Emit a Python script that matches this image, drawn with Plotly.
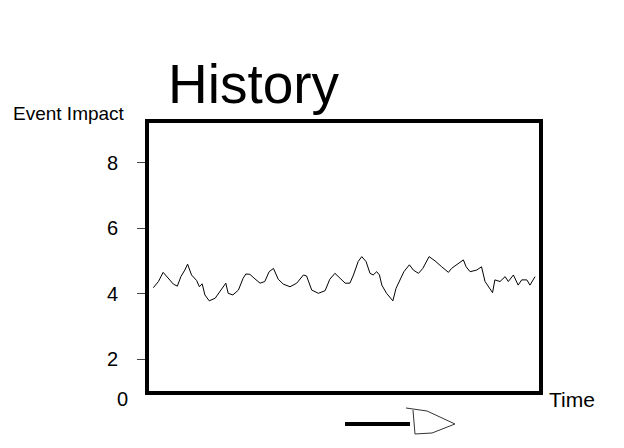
import plotly.graph_objects as go

# Data
time = [1.6, 2.9, 4.1, 5.4, 6.7, 7.7, 8.6, 9.6, 10.3, 11.3, 12.6, 13.3, 14.0, 14.7, 15.8, 17.3,
        19.0, 20.0, 20.6, 21.8, 23.2, 24.4, 25.1, 26.1, 27.4, 28.7, 29.9, 31.0, 32.1, 33.3,
        34.6, 36.3, 38.0, 39.7, 40.5, 41.8, 43.5, 45.2, 46.4, 47.7, 49.0, 50.3, 51.5, 52.4,
        53.6, 54.5, 55.6, 56.6, 57.4, 58.3, 59.0, 59.6, 60.8, 62.4, 63.2, 64.2, 65.2, 66.6,
        67.6, 68.9, 70.0, 71.6, 73.1, 74.8, 76.5, 77.3, 78.6, 80.3, 81.0, 82.0, 83.7, 84.9,
        85.8, 87.7, 88.3, 89.6, 90.9, 91.7, 93.0, 94.2, 95.1, 96.4, 97.2, 98.5]
impact = [4.19, 4.38, 4.66, 4.48, 4.30, 4.24, 4.53, 4.73, 4.91, 4.58, 4.41, 4.22, 4.31, 3.97,
          3.79, 3.87, 4.14, 4.33, 4.02, 3.97, 4.12, 4.48, 4.61, 4.60, 4.46, 4.33, 4.38, 4.68,
          4.78, 4.45, 4.30, 4.22, 4.33, 4.58, 4.55, 4.12, 4.02, 4.10, 4.45, 4.63, 4.48, 4.33,
          4.33, 4.58, 4.99, 5.14, 4.99, 4.63, 4.58, 4.68, 4.58, 4.27, 4.02, 3.79, 4.17, 4.43,
          4.68, 4.89, 4.73, 4.63, 4.78, 5.14, 5.01, 4.83, 4.66, 4.78, 4.89, 5.04, 4.83, 4.68,
          4.73, 4.83, 4.38, 4.04, 4.43, 4.38, 4.53, 4.38, 4.58, 4.27, 4.43, 4.43, 4.27, 4.53]
y_ticks = [2, 4, 6, 8]
y_tick_labels = ["2", "4", "6", "8"]

FONT = "Arial, Liberation Sans, sans-serif"
W, H = 624, 448
OFF = 8  # page body margin
L, R, T, B = 147 - OFF, 83 + OFF, 121 - OFF, 55 + OFF
PW, PH = W - L - R, H - T - B


def px(x):
    return (x - OFF - L) / PW


def py(y):
    return (H - B - (y - OFF)) / PH


fig = go.Figure()
fig.add_trace(go.Scatter(x=time, y=impact, mode="lines",
                         line=dict(color="black", width=1), hoverinfo="skip"))

arrow_pts = [(406, 408), (427, 411), (455, 424), (432, 433), (415, 434), (413, 410)]
path = "M " + " L ".join(f"{px(a):.4f},{py(b):.4f}" for a, b in arrow_pts)

fig.update_layout(
    width=W, height=H,
    margin=dict(l=L, r=R, t=T, b=B),
    paper_bgcolor="white", plot_bgcolor="white",
    showlegend=False,
    font=dict(family=FONT, color="black"),
    xaxis=dict(range=[0, 100], showgrid=False, zeroline=False, showticklabels=False,
               ticks="", showline=False),
    yaxis=dict(range=[0.977, 9.28], showgrid=False, zeroline=False,
               tickvals=y_ticks, ticktext=y_tick_labels, ticks="outside", ticklen=9,
               tickcolor="#444444", tickwidth=1, ticklabelstandoff=15,
               tickfont=dict(size=20, family=FONT, color="black"), showline=False),
    shapes=[
        dict(type="rect", xref="paper", yref="paper", x0=0, x1=1, y0=0, y1=1,
             line=dict(color="black", width=4), layer="above"),
        dict(type="line", xref="paper", yref="paper", x0=px(345), x1=px(410),
             y0=py(424), y1=py(424), line=dict(color="black", width=4)),
        dict(type="path", xref="paper", yref="paper", path=path,
             line=dict(color="#333333", width=1)),
    ],
    annotations=[
        dict(text="History", xref="paper", yref="paper", x=px(166), y=py(84),
             xanchor="left", yanchor="middle", showarrow=False,
             font=dict(size=55, family=FONT, color="black")),
        dict(text="Event Impact", xref="paper", yref="paper", x=px(127), y=py(113),
             xanchor="right", yanchor="middle", showarrow=False,
             font=dict(size=19, family=FONT, color="black")),
        dict(text="Time", xref="paper", yref="paper", x=px(547), y=py(399),
             xanchor="left", yanchor="middle", showarrow=False,
             font=dict(size=21, family=FONT, color="black")),
        dict(text="0", xref="paper", yref="paper", x=px(122), y=py(399),
             xanchor="center", yanchor="middle", showarrow=False,
             font=dict(size=20, family=FONT, color="black")),
    ],
)

fig.write_html("out.html")
